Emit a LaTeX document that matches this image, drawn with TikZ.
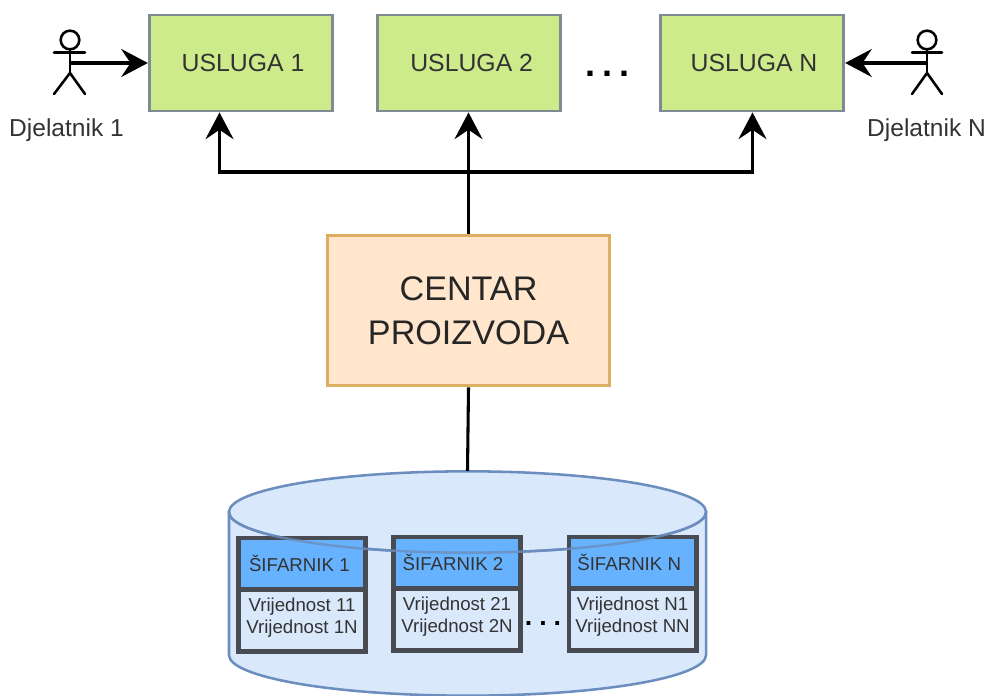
\documentclass[tikz,border=0pt]{standalone}
\usepackage{fontspec}
\setmainfont{Liberation Sans}
\usetikzlibrary{arrows.meta,positioning}

\definecolor{uslugafill}{HTML}{CDEB8B}
\definecolor{uslugaline}{HTML}{7F8A93}
\definecolor{centarfill}{HTML}{FFE6CC}
\definecolor{centarline}{HTML}{DDAE62}
\definecolor{bazafill}{HTML}{DAE8FC}
\definecolor{bazaline}{HTML}{6C8EBF}
\definecolor{sifarnikfill}{HTML}{66B2FF}
\definecolor{sifarnikline}{HTML}{484C52}
\definecolor{tekst}{HTML}{333333}

\tikzset{
	usluga/.style={draw=uslugaline,fill=uslugafill,line width=2.2pt,minimum width=137.5pt,minimum height=72pt,text=tekst,font=\fontsize{18.6pt}{22pt}\selectfont},
	centar/.style={draw=centarline,fill=centarfill,line width=2.2pt,minimum width=212pt,minimum height=113pt,align=center,text=black!85,font=\fontsize{25.6pt}{33pt}\selectfont},
	sifarnik/.style={draw=sifarnikline,fill=sifarnikfill,line width=3.5pt,outer sep=0pt,minimum width=95.5pt,minimum height=38.5pt,text=tekst,font=\fontsize{14pt}{16pt}\selectfont},
	vrijednost/.style={draw=sifarnikline,line width=3.5pt,outer sep=0pt,minimum width=95.5pt,minimum height=46.5pt,align=center,text=tekst,text depth=7pt,font=\fontsize{14pt}{16.5pt}\selectfont},
	djelatnik/.style={text=tekst,font=\fontsize{18.4pt}{22pt}\selectfont},
	figura/.style={black,line width=1.9pt,line cap=round},
	glava/.style={draw=black,line width=1.9pt,circle,inner sep=0pt,minimum size=14pt},
	linija/.style={black,line width=2.3pt},
	strelica/.style={black,line width=2.3pt,-{Stealth[length=20pt,width=21pt,inset=7pt]}},
	tocke/.style={anchor=base,inner sep=0pt,font=\bfseries}
}

\begin{document}
\begin{tikzpicture}[x=0.75pt,y=-0.75pt]
	\useasboundingbox (0,0) rectangle (987,695);

	% baza
	\draw[draw=bazaline,fill=bazafill,line width=1.9pt] (229,512) -- (229,655) arc[start angle=180,end angle=360,x radius=178.9pt,y radius=30.5pt] -- (706,512) -- cycle;
	\draw[draw=bazaline,fill=bazafill,line width=1.9pt] (467.5,512) ellipse [x radius=178.9pt,y radius=30.5pt];

	% sifarnici
	\node[sifarnik] (sif1) at (302,563.5) {\hspace*{-4pt}ŠIFARNIK 1};
	\node[sifarnik] (sif2) at (457,562.5) {\hspace*{-6pt}ŠIFARNIK 2};
	\node[sifarnik] (sifN) at (632.5,562.5) {\hspace*{-5pt}ŠIFARNIK N};
	\node[vrijednost,below=0pt of sif1] (vr1) {Vrijednost 11\\Vrijednost 1N};
	\node[vrijednost,below=0pt of sif2] (vr2) {Vrijednost 21\\Vrijednost 2N};
	\node[vrijednost,below=0pt of sifN] (vrN) {Vrijednost N1\\Vrijednost NN};
	\draw[draw=bazaline,opacity=0.8,line width=1.9pt] (229,512) arc[start angle=180,end angle=360,x radius=178.9pt,y radius=30.5pt];
	\node[tocke,font=\fontsize{20pt}{20pt}\bfseries\selectfont] (tockeB) at (543,625.5) {.\kern5.2pt.\kern5.2pt.};

	% usluge
	\node[usluga] (usl1) at (241,63) {\hspace*{3pt}USLUGA 1};
	\node[usluga] (usl2) at (469,63) {\hspace*{4pt}USLUGA 2};
	\node[usluga] (uslN) at (752,63) {\hspace*{3pt}USLUGA N};
	\node[tocke,font=\fontsize{27pt}{27pt}\bfseries\selectfont] (tockeA) at (607.5,76.5) {.\kern4.9pt.\kern4.9pt.};

	\node[centar] (cen) at (468.5,310.5) {CENTAR\\PROIZVODA};

	% djelatnici
	\foreach \ime/\x/\ax/\bx in {1/70/54/85,N/927/912/942} {
		\node[glava] (gl\ime) at (\x,40) {};
		\coordinate (ruka\ime) at (\x,63);
		\coordinate (kuk\ime) at (\x,73);
		\draw[figura] (gl\ime) -- (kuk\ime);
		\draw[figura] (\ax,52.5) -- (\bx,52.5);
		\draw[figura] (\ax,94) -- (kuk\ime) -- (\bx,94);
	}
	\node[djelatnik] (dj1) at (66.5,130) {Djelatnik 1};
	\node[djelatnik] (djN) at (926.5,130) {Djelatnik N};

	% veze
	\draw[strelica] (ruka1) -- (usl1.west);
	\draw[strelica] (rukaN) -- (uslN.east);
	\coordinate (razvod) at (468.5,172);
	\coordinate (ulaz1) at (219.5,172);
	\coordinate (ulazN) at (752.5,172);
	\draw[strelica] (cen.north) -- (cen.north |- usl2.south);
	\draw[strelica] (razvod) -- (ulaz1) -- (ulaz1 |- usl1.south);
	\draw[strelica] (razvod) -- (ulazN) -- (ulazN |- uslN.south);
	\coordinate (bazavrh) at (467.5,471);
	\draw[linija] (cen.south) -- (bazavrh);
\end{tikzpicture}
\end{document}
